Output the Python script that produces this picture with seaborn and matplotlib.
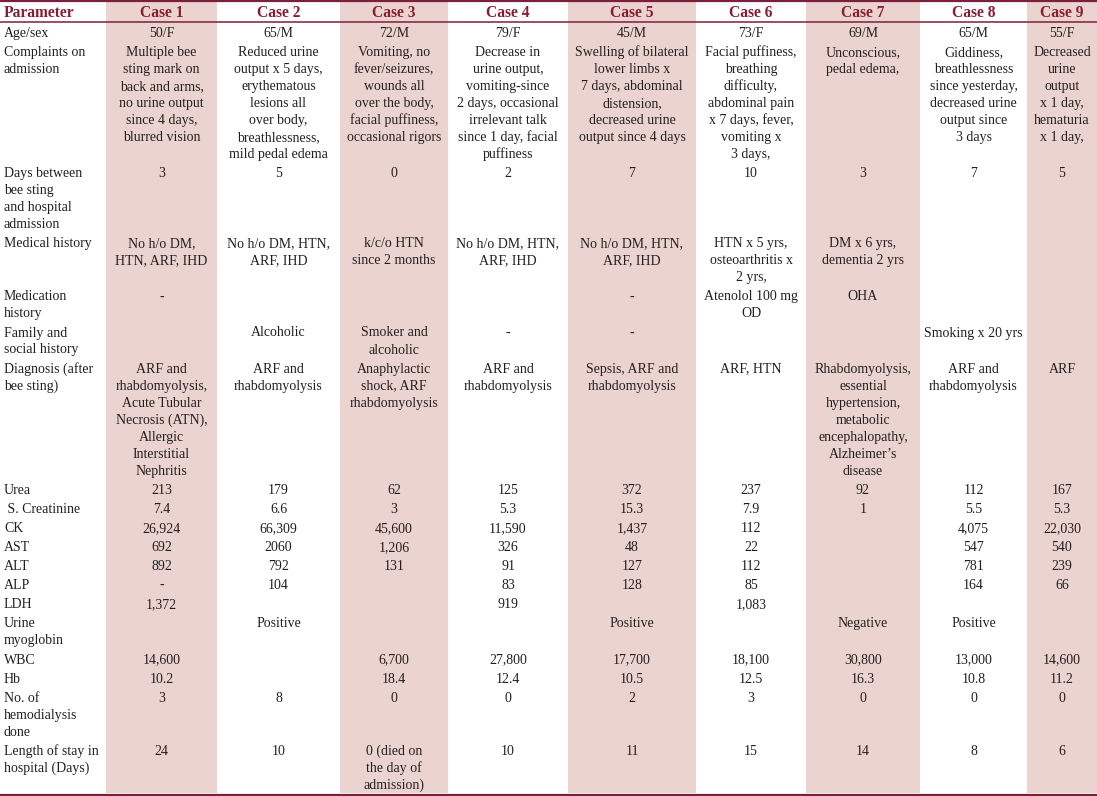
import matplotlib
matplotlib.use("Agg")
import matplotlib.pyplot as plt
import seaborn as sns

# ---------------- data ----------------
header = ["Parameter", "Case 1", "Case 2", "Case 3", "Case 4", "Case 5",
          "Case 6", "Case 7", "Case 8", "Case 9"]

parameters = ["Age/sex", "Complaints on\nadmission",
              "Days between\nbee sting\nand hospital\nadmission",
              "Medical history", "Medication\nhistory", "Family and\nsocial history",
              "Diagnosis (after\nbee sting)", "Urea", " S. Creatinine", "CK", "AST",
              "ALT", "ALP", "LDH", "Urine\nmyoglobin", "WBC", "Hb",
              "No. of\nhemodialysis\ndone", "Length of stay in\nhospital (Days)"]

case_1 = ["50/F", "Multiple bee\nsting mark on\nback and arms,\nno urine output\nsince 4 days,\nblurred vision",
          "3", "No h/o DM,\nHTN, ARF, IHD", "-", "",
          "ARF and\nrhabdomyolysis,\nAcute Tubular\nNecrosis (ATN),\nAllergic\nInterstitial\nNephritis",
          "213", "7.4", "26,924", "692", "892", "-", "1,372", "", "14,600", "10.2", "3", "24"]
case_2 = ["65/M", "Reduced urine\noutput x 5 days,\nerythematous\nlesions all\nover body,\nbreathlessness,\nmild pedal edema",
          "5", "No h/o DM, HTN,\nARF, IHD", "", "Alcoholic", "ARF and\nrhabdomyolysis",
          "179", "6.6", "66,309", "2060", "792", "104", "", "Positive", "", "", "8", "10"]
case_3 = ["72/M", "Vomiting, no\nfever/seizures,\nwounds all\nover the body,\nfacial puffiness,\noccasional rigors",
          "0", "k/c/o HTN\nsince 2 months", "", "Smoker and\nalcoholic",
          "Anaphylactic\nshock, ARF\nrhabdomyolysis",
          "62", "3", "45,600", "1,206", "131", "", "", "", "6,700", "18.4", "0",
          "0 (died on\nthe day of\nadmission)"]
case_4 = ["79/F", "Decrease in\nurine output,\nvomiting-since\n2 days, occasional\nirrelevant talk\nsince 1 day, facial\npuffiness",
          "2", "No h/o DM, HTN,\nARF, IHD", "", "-", "ARF and\nrhabdomyolysis",
          "125", "5.3", "11,590", "326", "91", "83", "919", "", "27,800", "12.4", "0", "10"]
case_5 = ["45/M", "Swelling of bilateral\nlower limbs x\n7 days, abdominal\ndistension,\ndecreased urine\noutput since 4 days",
          "7", "No h/o DM, HTN,\nARF, IHD", "-", "-", "Sepsis, ARF and\nrhabdomyolysis",
          "372", "15.3", "1,437", "48", "127", "128", "", "Positive", "17,700", "10.5", "2", "11"]
case_6 = ["73/F", "Facial puffiness,\nbreathing\ndifficulty,\nabdominal pain\nx 7 days, fever,\nvomiting x\n3 days,",
          "10", "HTN x 5 yrs,\nosteoarthritis x\n2 yrs,", "Atenolol 100 mg\nOD", "", "ARF, HTN",
          "237", "7.9", "112", "22", "112", "85", "1,083", "", "18,100", "12.5", "3", "15"]
case_7 = ["69/M", "Unconscious,\npedal edema,", "3", "DM x 6 yrs,\ndementia 2 yrs", "OHA", "",
          "Rhabdomyolysis,\nessential\nhypertension,\nmetabolic\nencephalopathy,\nAlzheimer\u2019s\ndisease",
          "92", "1", "", "", "", "", "", "Negative", "30,800", "16.3", "0", "14"]
case_8 = ["65/M", "Giddiness,\nbreathlessness\nsince yesterday,\ndecreased urine\noutput since\n3 days",
          "7", "", "", "Smoking x 20 yrs", "ARF and\nrhabdomyolysis",
          "112", "5.5", "4,075", "547", "781", "164", "", "Positive", "13,000", "10.8", "0", "8"]
case_9 = ["55/F", "Decreased\nurine\noutput\nx 1 day,\nhematuria\nx 1 day,",
          "5", "", "", "", "ARF",
          "167", "5.3", "22,030", "540", "239", "66", "", "", "14,600", "11.2", "0", "6"]

cases = [case_1, case_2, case_3, case_4, case_5, case_6, case_7, case_8, case_9]

# ---------------- layout ----------------
W, H = 1097, 796
col_edges = [0, 106, 217, 340, 448, 568, 696, 806, 920, 1027, 1097]
LH = 17.0
GAP = 2.1
HEADER_Y = 11
FIRST_Y = 32

SHADE = "#EBD4CF"
RULE = "#7B1F3F"
HEAD_COLOR = "#8A1C32"
TEXT_COLOR = "#231F20"
FONT = ["Liberation Serif", "DejaVu Serif"]

sns.set_theme(style="white")
plt.rcParams["font.family"] = FONT

fig = plt.figure(figsize=(W / 100, H / 100), dpi=100)
ax = fig.add_axes([0, 0, 1, 1])
ax.set_xlim(0, W)
ax.set_ylim(H, 0)
ax.axis("off")

# shaded case columns (odd cases)
for ci in range(len(cases)):
    if ci % 2 == 0:
        x0, x1 = col_edges[ci + 1], col_edges[ci + 2]
        ax.bar((x0 + x1) / 2, 793 - 1.5, width=x1 - x0, bottom=1.5,
               color=SHADE, edgecolor="none", zorder=0)

# rules
ax.axhline(1.0, color=RULE, lw=1.6, zorder=2)
ax.axhline(21.5, color=RULE, lw=1.1, zorder=2)
ax.axhline(794.5, color=RULE, lw=1.6, zorder=2)

body_fs = 10.0
head_fs = 11.2

# header
ax.text(4, HEADER_Y, header[0], ha="left", va="center_baseline",
        fontsize=head_fs, fontweight="bold", color=HEAD_COLOR)
for ci in range(len(cases)):
    xc = (col_edges[ci + 1] + col_edges[ci + 2]) / 2
    ax.text(xc, HEADER_Y, header[ci + 1], ha="center", va="center_baseline",
            fontsize=head_fs, fontweight="bold", color=HEAD_COLOR)

# body rows
y = FIRST_Y
for ri, param in enumerate(parameters):
    cells = [param] + [c[ri] for c in cases]
    nlines = max(len(s.split("\n")) for s in cells)
    for li, line in enumerate(param.split("\n")):
        ax.text(4, y + li * LH, line, ha="left", va="center_baseline",
                fontsize=body_fs, color=TEXT_COLOR)
    for ci, c in enumerate(cases):
        xc = (col_edges[ci + 1] + col_edges[ci + 2]) / 2
        for li, line in enumerate(c[ri].split("\n")):
            if line:
                ax.text(xc, y + li * LH, line, ha="center", va="center_baseline",
                        fontsize=body_fs, color=TEXT_COLOR)
    y += nlines * LH + GAP

fig.savefig("out.png", dpi=100)
